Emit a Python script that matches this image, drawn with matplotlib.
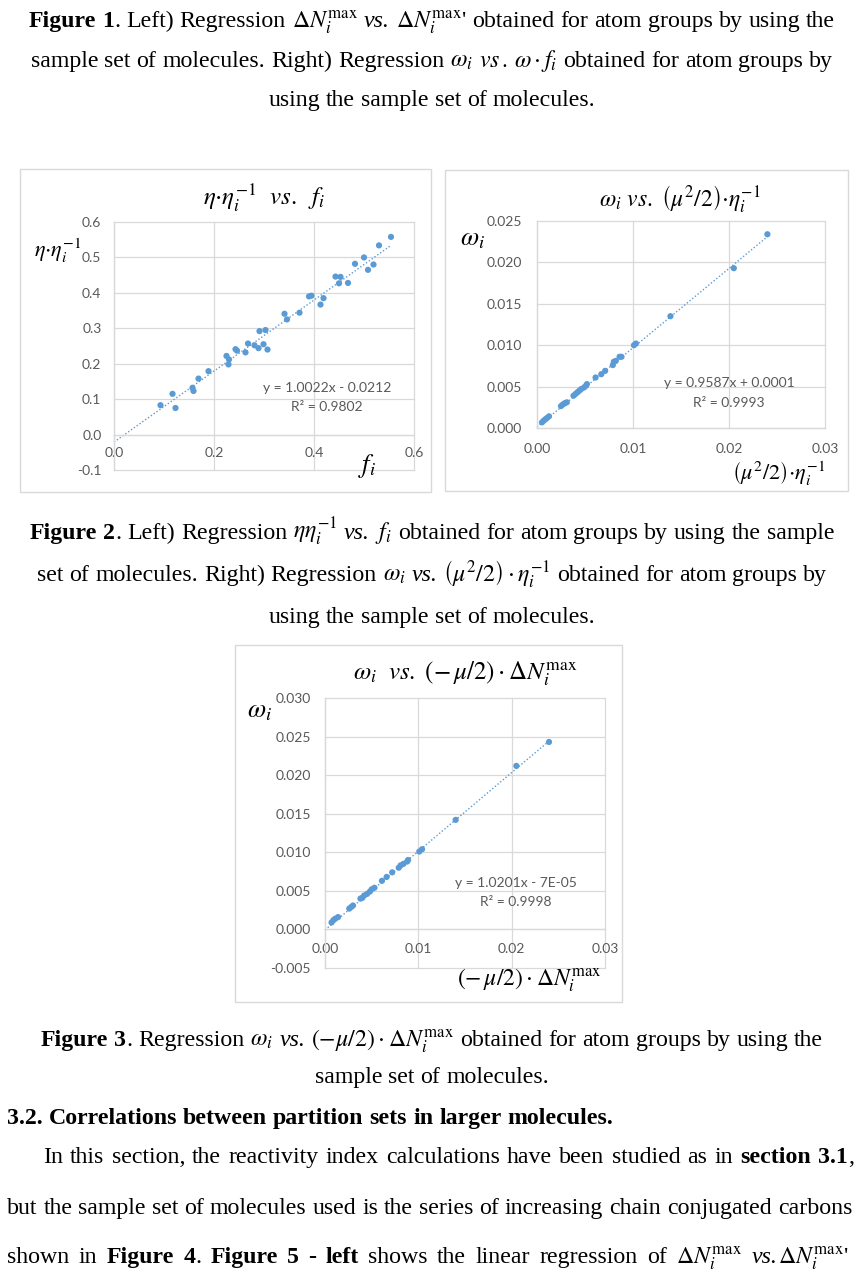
import matplotlib
matplotlib.use('Agg')
import matplotlib.pyplot as plt
from matplotlib.patches import Rectangle
import numpy as np

# ---------------- data ----------------
f_i = [0.093, 0.117, 0.123, 0.157, 0.159, 0.169, 0.189, 0.225, 0.230, 0.229,
       0.243, 0.246, 0.263, 0.268, 0.281, 0.289, 0.291, 0.299, 0.303, 0.307,
       0.341, 0.346, 0.371, 0.390, 0.395, 0.413, 0.419, 0.443, 0.450, 0.453,
       0.468, 0.482, 0.500, 0.508, 0.519, 0.530, 0.554]
eta_ratio = [0.083, 0.115, 0.075, 0.132, 0.123, 0.158, 0.179, 0.222, 0.212, 0.198,
             0.241, 0.237, 0.232, 0.257, 0.252, 0.244, 0.292, 0.255, 0.295, 0.240,
             0.341, 0.325, 0.344, 0.390, 0.392, 0.367, 0.385, 0.446, 0.427, 0.445,
             0.428, 0.482, 0.500, 0.465, 0.480, 0.534, 0.558]
trend1 = (1.0022, -0.0212)
eq1 = ["y = 1.0022x - 0.0212", "R² = 0.9802"]

mu2_eta = [0.00052, 0.00069, 0.00087, 0.00104, 0.00125, 0.0025, 0.0027, 0.0029,
           0.0031, 0.0038, 0.0040, 0.0042, 0.0044, 0.0046, 0.0049, 0.0051, 0.0052,
           0.0061, 0.0067, 0.0071, 0.0079, 0.0080, 0.0082, 0.0086, 0.0088, 0.0101,
           0.0103, 0.0139, 0.0205, 0.0240]
omega_2 = [0.00068, 0.00088, 0.00105, 0.00121, 0.00141, 0.00265, 0.00285, 0.0030,
           0.0031, 0.0039, 0.0041, 0.0043, 0.0045, 0.0047, 0.0049, 0.0051, 0.0053,
           0.0061, 0.0065, 0.0069, 0.0076, 0.0080, 0.0081, 0.0086, 0.0086, 0.0100,
           0.0102, 0.0135, 0.0193, 0.0234]
trend2 = (0.9587, 0.0001)
eq2 = ["y = 0.9587x + 0.0001", "R² = 0.9993"]

mu_dn = [0.0007, 0.0009, 0.0011, 0.0014, 0.0026, 0.0028, 0.0030, 0.0038, 0.0040,
         0.0042, 0.0045, 0.0048, 0.0050, 0.0053, 0.0061, 0.0066, 0.0072, 0.0079,
         0.0081, 0.0084, 0.0088, 0.0089, 0.0101, 0.0104, 0.0140, 0.0205, 0.0240]
omega_3 = [0.0009, 0.0012, 0.0014, 0.0016, 0.0027, 0.0029, 0.0031, 0.0040, 0.0041,
           0.0044, 0.0046, 0.0049, 0.0052, 0.0054, 0.0063, 0.0068, 0.0074, 0.0080,
           0.0083, 0.0085, 0.0088, 0.0090, 0.0101, 0.0104, 0.0142, 0.0212, 0.0243]
trend3 = (1.0201, -7e-05)
eq3 = ["y = 1.0201x - 7E-05", "R² = 0.9998"]

x1_ticks = [0.0, 0.2, 0.4, 0.6]
y1_ticks = [-0.1, 0.0, 0.1, 0.2, 0.3, 0.4, 0.5, 0.6]
x2_ticks = [0.00, 0.01, 0.02, 0.03]
y2_ticks = [0.000, 0.005, 0.010, 0.015, 0.020, 0.025]
x3_ticks = [0.00, 0.01, 0.02, 0.03]
y3_ticks = [-0.005, 0.000, 0.005, 0.010, 0.015, 0.020, 0.025, 0.030]

# ---------------- figure ----------------
W, H, DPI = 859, 1277, 100
plt.rcParams['mathtext.fontset'] = 'stix'
plt.rcParams['font.family'] = ['Liberation Serif', 'DejaVu Serif']
fig = plt.figure(figsize=(W / DPI, H / DPI), dpi=DPI)
fig.patch.set_facecolor('white')
renderer = fig.canvas.get_renderer()

BLUE = '#5B9BD5'
GRID = '#D9D9D9'
TXT = '#595959'
TICKFONT = 'Lato'
CAP_FS = 17.2


def ftext(x, y, s, **kw):
    return fig.text(x / W, 1 - y / H, s, transform=fig.transFigure, **kw)


def tokenize(segs):
    words = [[]]
    for text, style in segs:
        if style == 'm':
            words[-1].append((text, style))
            continue
        parts = text.split(' ')
        for k, p in enumerate(parts):
            if k > 0:
                words.append([])
            if p:
                words[-1].append((p, style))
    return [w for w in words if w]


def draw_line(segs, y, fs=CAP_FS, align='center', cx=432, x0=7, x1=852):
    words = tokenize(segs)
    objs = []
    widths = []
    for w in words:
        wo = []
        ww = 0
        for text, style in w:
            kw = dict(fontsize=fs, va='baseline', ha='left', color='black')
            if style == 'b':
                kw['fontweight'] = 'bold'
            if style == 'i':
                kw['fontstyle'] = 'italic'
            t = ftext(0, y, text, **kw)
            bw = t.get_window_extent(renderer).width
            wo.append((t, bw))
            ww += bw
        objs.append(wo)
        widths.append(ww)
    space = 0.25 * fs * DPI / 72.0
    total = sum(widths) + space * (len(words) - 1)
    if align == 'center':
        x = cx - total / 2.0
        gap = space
    elif align == 'left':
        x = x0
        gap = space
    else:  # justify
        x = x0
        gap = (x1 - x0 - sum(widths)) / max(len(words) - 1, 1)
    for wo, ww in zip(objs, widths):
        xx = x
        for t, bw in wo:
            t.set_position((xx / W, 1 - y / H))
            xx += bw
        x += ww + gap


def box(x0, y0, x1, y1):
    fig.patches.append(Rectangle((x0 / W, 1 - y1 / H), (x1 - x0) / W, (y1 - y0) / H,
                                 transform=fig.transFigure, facecolor='none',
                                 edgecolor=GRID, lw=1.0, zorder=-1))


def add_ax(x0, x1, ytop, ybot):
    return fig.add_axes([x0 / W, 1 - ybot / H, (x1 - x0) / W, (ybot - ytop) / H])


def style_ax(ax, xt, yt, xfmt, yfmt, xpad, ypad, cross_zero):
    ax.set_facecolor('none')
    for s in ['top', 'right']:
        ax.spines[s].set_visible(False)
    ax.spines['left'].set_color(GRID)
    ax.spines['bottom'].set_color(GRID)
    ax.spines['left'].set_linewidth(0.9)
    ax.spines['bottom'].set_linewidth(0.9)
    if cross_zero:
        ax.spines['bottom'].set_position(('data', 0))
    ax.set_xticks(xt, labels=[xfmt.format(v) for v in xt])
    ax.set_yticks(yt, labels=[yfmt.format(v) for v in yt])
    ax.set_xlim(xt[0], xt[-1])
    ax.set_ylim(yt[0], yt[-1])
    ax.tick_params(length=0, labelsize=10, labelcolor=TXT)
    ax.tick_params(axis='x', pad=xpad)
    ax.tick_params(axis='y', pad=ypad)
    ax.grid(True, color=GRID, lw=0.9)
    ax.set_axisbelow(True)
    for gl in ax.get_xgridlines() + ax.get_ygridlines():
        gl.set_clip_on(False)
    for lbl in ax.get_xticklabels() + ax.get_yticklabels():
        lbl.set_fontfamily(TICKFONT)
        lbl.set_fontsize(10)
        lbl.set_color(TXT)


def scatter_trend(ax, x, y, trend):
    ax.scatter(x, y, s=20, color=BLUE, edgecolors='none', zorder=3, clip_on=False)
    xx = np.array([0.0, max(x)])
    ax.plot(xx, trend[0] * xx + trend[1], color=BLUE, lw=1.0,
            linestyle=(0, (1, 1.5)), zorder=2, clip_on=False)


# ---------------- captions ----------------
draw_line([("Figure 1", 'b'), (". Left) Regression ", 'r'), (r"$\Delta N_i^{\max}$", 'm'),
           (" ", 'r'), ("vs.", 'i'), (" ", 'r'), (r"$\Delta N_i^{\max}$", 'm'),
           ("' obtained for atom groups by using the", 'r')], 27)
draw_line([("sample set of molecules. Right) Regression ", 'r'), (r"$\omega_i$", 'm'),
           (" ", 'r'), (r"$vs\,.$", 'm'), (" ", 'r'), (r"$\omega\cdot f_i$", 'm'),
           (" obtained for atom groups by", 'r')], 67)
draw_line([("using the sample set of molecules.", 'r')], 106)

draw_line([("Figure 2", 'b'), (". Left) Regression ", 'r'), (r"$\eta\eta_i^{-1}$", 'm'),
           (" ", 'r'), ("vs.", 'i'), (" ", 'r'), (r"$f_i$", 'm'),
           (" obtained for atom groups by using the sample", 'r')], 539)
draw_line([("set of molecules. Right) Regression ", 'r'), (r"$\omega_i$", 'm'),
           (" ", 'r'), ("vs.", 'i'), (" ", 'r'), (r"$\left(\mu^2/2\right)\cdot\eta_i^{-1}$", 'm'),
           (" obtained for atom groups by", 'r')], 581)
draw_line([("using the sample set of molecules.", 'r')], 623)

draw_line([("Figure 3", 'b'), (". Regression ", 'r'), (r"$\omega_i$", 'm'),
           (" ", 'r'), ("vs.", 'i'), (" ", 'r'), (r"$\left(-\mu/2\right)\cdot\Delta N_i^{\max}$", 'm'),
           (" obtained for atom groups by using the", 'r')], 1046)
draw_line([("sample set of molecules.", 'r')], 1083)

draw_line([("3.2. Correlations between partition sets in larger molecules.", 'b')], 1124,
          align='left', x0=7)
draw_line([("In this section, the reactivity index calculations have been studied as in ", 'r'),
           ("section 3.1", 'b'), (",", 'r')], 1163, align='justify', x0=43, x1=854)
draw_line([("but the sample set of molecules used is the series of increasing chain conjugated carbons", 'r')],
          1214, align='justify', x0=7, x1=852)
draw_line([("shown in ", 'r'), ("Figure 4", 'b'), (". ", 'r'), ("Figure 5 - left", 'b'),
           (" shows the linear regression of ", 'r'), (r"$\Delta N_i^{\max}$", 'm'), (" ", 'r'),
           ("vs.", 'i'), (r"$\Delta N_i^{\max}$", 'm'), ("'", 'r')],
          1263, align='justify', x0=7, x1=848)

# ---------------- panel boxes ----------------
box(20, 169, 431, 492)
box(445, 170, 848, 491)
box(235, 645, 622, 1002)

MFS = 17

# Panel 1
ax1 = add_ax(114, 414, 222, 470)
style_ax(ax1, x1_ticks, y1_ticks, "{:.1f}", "{:.1f}", 9, 9, True)
scatter_trend(ax1, f_i, eta_ratio, trend1)
ftext(264, 204, r"$\eta{\cdot}\eta_i^{-1}\ \ vs.\ \ f_i$", fontsize=18, ha='center', va='baseline')
ftext(34, 257, r"$\eta{\cdot}\eta_i^{-1}$", fontsize=MFS - 1, ha='left', va='baseline')
ftext(358, 472, r"$f_i$", fontsize=MFS + 2, ha='left', va='baseline')
ftext(327, 392, eq1[0], fontsize=10, ha='center', va='baseline', color=TXT, fontfamily=TICKFONT)
ftext(327, 411, eq1[1], fontsize=10, ha='center', va='baseline', color=TXT, fontfamily=TICKFONT)

# Panel 2
ax2 = add_ax(537, 825, 221, 428)
style_ax(ax2, x2_ticks, y2_ticks, "{:.2f}", "{:.3f}", 11, 11, False)
scatter_trend(ax2, mu2_eta, omega_2, trend2)
ftext(680, 206, r"$\omega_i\ vs.\ \left(\mu^2/2\right){\cdot}\eta_i^{-1}$", fontsize=17, ha='center', va='baseline')
ftext(460, 245, r"$\omega_i$", fontsize=MFS + 2, ha='left', va='baseline')
ftext(732, 480, r"$\left(\mu^2/2\right){\cdot}\eta_i^{-1}$", fontsize=MFS - 1, ha='left', va='baseline')
ftext(729, 387, eq2[0], fontsize=10, ha='center', va='baseline', color=TXT, fontfamily=TICKFONT)
ftext(729, 407, eq2[1], fontsize=10, ha='center', va='baseline', color=TXT, fontfamily=TICKFONT)

# Panel 3
ax3 = add_ax(325, 605, 698, 968)
style_ax(ax3, x3_ticks, y3_ticks, "{:.2f}", "{:.3f}", 10, 10, True)
scatter_trend(ax3, mu_dn, omega_3, trend3)
ftext(465, 679, r"$\omega_i\ \ vs.\ \left(-\,\mu/2\right)\cdot\Delta N_i^{\max}$", fontsize=18, ha='center', va='baseline')
ftext(247, 717, r"$\omega_i$", fontsize=MFS + 2, ha='left', va='baseline')
ftext(457, 985, r"$\left(-\,\mu/2\right)\cdot\Delta N_i^{\max}$", fontsize=MFS, ha='left', va='baseline')
ftext(516, 887, eq3[0], fontsize=10, ha='center', va='baseline', color=TXT, fontfamily=TICKFONT)
ftext(516, 906, eq3[1], fontsize=10, ha='center', va='baseline', color=TXT, fontfamily=TICKFONT)

fig.savefig('out.png', dpi=DPI, facecolor='white')
